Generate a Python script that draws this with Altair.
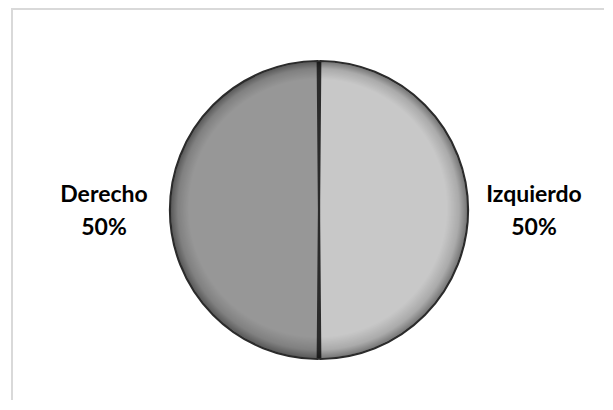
import altair as alt
import pandas as pd

categories = ["Izquierdo", "Derecho"]
percentages = [50, 50]
colors = ["#c8c8c8", "#979797"]

df = pd.DataFrame({"categoria": categories, "porcentaje": percentages,
                   "orden": list(range(len(categories)))})

R = 149

base = alt.Chart(df).encode(
    theta=alt.Theta("porcentaje:Q", stack=True),
    order=alt.Order("orden:Q"),
)

# dark disc underneath, visible through the gap between slices
disc = alt.Chart(pd.DataFrame({"k": [0]})).mark_arc(
    outerRadius=R, fill="#2b2b2b"
).encode(theta=alt.value(0), theta2=alt.value(6.2832))

pie = base.mark_arc(outerRadius=R, padAngle=0.017, stroke="#2b2b2b", strokeWidth=2.2).encode(
    color=alt.Color("categoria:N", scale=alt.Scale(domain=categories, range=colors), legend=None)
)

# bevel-like rim shading
rim = alt.Chart(pd.DataFrame({"k": [0]})).mark_arc(
    outerRadius=R - 1,
    fill={
        "gradient": "radial",
        "x1": 0.47, "y1": 0.45, "r1": 0,
        "x2": 0.5, "y2": 0.5, "r2": 0.5,
        "stops": [
            {"offset": 0, "color": "rgba(0,0,0,0)"},
            {"offset": 0.87, "color": "rgba(0,0,0,0)"},
            {"offset": 0.95, "color": "rgba(0,0,0,0.15)"},
            {"offset": 1, "color": "rgba(0,0,0,0.4)"},
        ],
    },
).encode(theta=alt.value(0), theta2=alt.value(6.2832))

labels = base.transform_calculate(
    etiqueta="datum.categoria + '\\n' + datum.porcentaje + '%'"
).mark_text(
    radius=215, font="Lato", fontSize=23, fontWeight="bold", color="#000000",
    lineBreak="\n", lineHeight=33, align="center", baseline="middle", dy=-15
).encode(text="etiqueta:N")

frame_top = alt.Chart(df).mark_rule(color="#d9d9d9", strokeWidth=2).encode(
    x=alt.value(-23), x2=alt.value(600), y=alt.value(-11)
)
frame_left = alt.Chart(df).mark_rule(color="#d9d9d9", strokeWidth=2).encode(
    x=alt.value(-22), y=alt.value(-12), y2=alt.value(420)
)

chart = alt.layer(frame_top, frame_left, disc, pie, rim, labels).properties(
    width=570, height=380,
    padding={"left": 26, "top": 12, "right": 0, "bottom": 0},
    autosize=alt.AutoSizeParams(type="none"),
    background="#ffffff",
).configure_view(stroke=None)

chart.save("out.html", embed_options={"renderer": "svg", "actions": False})
